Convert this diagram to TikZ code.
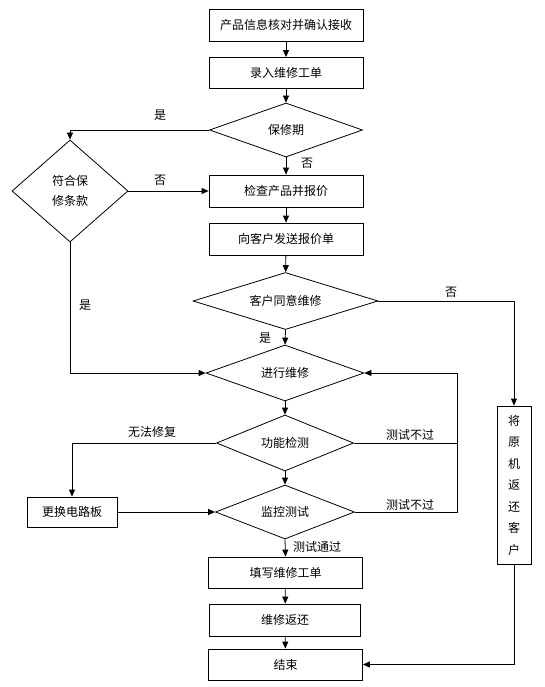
\documentclass[tikz,border=0pt]{standalone}
\usepackage{fontspec}
\newfontfamily\cjk{Noto Sans CJK SC}
\usetikzlibrary{shapes.geometric, arrows.meta}

\begin{document}
\begin{tikzpicture}[x=1pt, y=-1pt, line width=0.8pt,
	every node/.style={font=\cjk\fontsize{12}{14}\selectfont},
	box/.style={draw, rectangle, minimum width=154pt, minimum height=32pt, inner sep=0pt},
	decision/.style={draw, diamond, shape aspect=2.6, inner sep=0pt},
	lbl/.style={inner sep=0pt},
	arr/.style={-{Triangle[length=7pt,width=6pt]}}]
					\useasboundingbox (0,0) rectangle (545,687);
					
					\node[box] (n1) at (286,25) {产品信息核对并确认接收};
					\node[box, minimum height=31pt] (n2) at (286,73) {录入维修工单};
					\node[decision, minimum width=153pt, minimum height=54pt] (d1) at (286,130) {保修期};
					\node[decision, shape aspect=1.1, minimum width=116pt, minimum height=102pt, align=center, font=\cjk\fontsize{12}{20}\selectfont] (d0) at (70,191) {符合保\\修条款};
					\node[box] (n3) at (286,191) {检查产品并报价};
					\node[box] (n4) at (286,239) {向客户发送报价单};
					\node[decision, shape aspect=3.2, minimum width=185pt, minimum height=57pt] (d2) at (285.5,301) {客户同意维修};
					\node[decision, minimum width=158pt, minimum height=56pt] (d3) at (285,373) {进行维修};
					\node[decision, minimum width=137pt, minimum height=56pt] (d4) at (285,443) {功能检测};
					\node[decision, minimum width=139pt, minimum height=54pt] (d5) at (285,512) {监控测试};
					\node[box, minimum width=90pt, minimum height=30pt] (n5) at (72,512) {更换电路板};
					\node[box, minimum height=31pt] (n6) at (285.5,572.5) {填写维修工单};
					\node[box, minimum width=151pt] (n7) at (285,620) {维修返还};
					\node[box, minimum height=31pt] (n8) at (285.5,664.5) {结束};
					\node[box, minimum width=34pt, minimum height=158pt, align=center, font=\cjk\fontsize{12}{21.5}\selectfont] (n9) at (514,485) {将\\原\\机\\返\\还\\客\\户};
					\coordinate (rt) at (457,373);
					
					\node[lbl] (l1) at (160,115) {是};
					\node[lbl] (l2) at (307,163) {否};
					\node[lbl] (l3) at (160,180) {否};
					\node[lbl] (l4) at (451,292) {否};
					\node[lbl] (l5) at (265,338) {是};
					\node[lbl] (l6) at (85,305) {是};
					\node[lbl] (l7) at (152,432) {无法修复};
					\node[lbl] (l8) at (410,435) {测试不过};
					\node[lbl] (l9) at (410,505) {测试不过};
					\node[lbl] (l10) at (317,547) {测试通过};
					
					\draw[arr] (n1) -- (n2);
					\draw[arr] (n2) -- (d1);
					\draw[arr] (d1.west) -| (d0.north);
					\draw[arr] (d1.south) -- (n3.north);
					\draw[arr] (d0.east) -- (n3.west);
					\draw[arr] (n3) -- (n4);
					\draw[arr] (n4) -- (d2);
					\draw[arr] (d2.east) -| (n9.north);
					\draw[arr] (d2.south) -- (d3.north);
					\draw[arr] (d0.south) |- (d3.west);
					\draw[arr] (d3.south) -- (d4.north);
					\draw[arr] (d4.west) -| (n5.north);
					\draw[arr] (d4.east) -| (rt) -- (d3.east);
					\draw (d5.east) -| (rt);
					\draw[arr] (n5.east) -- (d5.west);
					\draw[arr] (d4.south) -- (d5.north);
					\draw[arr] (d5.south) -- (n6.north);
					\draw[arr] (n6) -- (n7);
					\draw[arr] (n7) -- (n8);
					\draw[arr] (n9.south) |- (n8.east);
					\end{tikzpicture}
\end{document}
